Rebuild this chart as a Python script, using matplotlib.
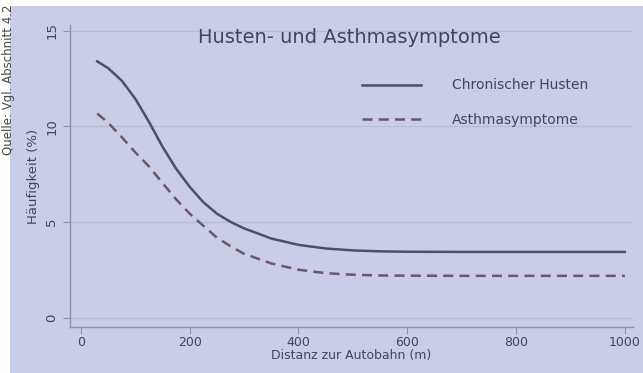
import matplotlib.pyplot as plt
from matplotlib.patches import Rectangle

# Werte
distanz = [30, 50, 75, 100, 125, 150, 175, 200, 225, 250, 275, 300, 350,
           400, 450, 500, 550, 600, 700, 800, 900, 1000]
husten = [13.4, 13.05, 12.4, 11.45, 10.25, 8.95, 7.8, 6.85, 6.05, 5.45, 5.02,
          4.68, 4.15, 3.82, 3.63, 3.53, 3.48, 3.46, 3.45, 3.45, 3.45, 3.45]
asthma = [10.68, 10.2, 9.45, 8.65, 7.92, 7.05, 6.2, 5.45, 4.82, 4.2, 3.75,
          3.35, 2.85, 2.52, 2.34, 2.26, 2.22, 2.21, 2.2, 2.2, 2.2, 2.2]
x_ticks = [0, 200, 400, 600, 800, 1000]
y_ticks = [0, 5, 10, 15]

bg = '#c9cde8'
txt = '#3f4560'

fig = plt.figure(figsize=(6.43, 3.73), dpi=100, facecolor='white')
fig.patches.append(Rectangle((10 / 643, 0), 1, (373 - 6) / 373,
                             transform=fig.transFigure, facecolor=bg,
                             edgecolor='none', zorder=-5))

ax = fig.add_axes([70 / 643, 46 / 373, 563 / 643, 302 / 373])
ax.set_facecolor(bg)

ax.plot(distanz, husten, color='#4a4f6e', lw=1.8, label='Chronischer Husten')
ax.plot(distanz, asthma, color='#6e5668', lw=1.8, dashes=(4, 2.5),
        label='Asthmasymptome')

ax.set_xlim(-20, 1015)
ax.set_ylim(-0.47, 15.3)
ax.set_xticks(x_ticks)
ax.set_yticks(y_ticks)
ax.grid(axis='y', color='#b7bbd8', lw=0.9)
ax.set_axisbelow(True)

for s in ['top', 'right']:
    ax.spines[s].set_visible(False)
for s in ['left', 'bottom']:
    ax.spines[s].set_color('#8a8fab')
    ax.spines[s].set_linewidth(1.0)

ax.tick_params(colors='#8a8fab', labelcolor=txt, labelsize=9.5, length=5)
ax.tick_params(axis='x', pad=1.5, labelsize=9)
for lab in ax.get_yticklabels():
    lab.set_rotation(90)
    lab.set_va('center')

ax.set_xlabel('Distanz zur Autobahn (m)', fontsize=9, color=txt, labelpad=0)
ax.set_ylabel('Häufigkeit (%)', fontsize=9.5, color=txt, labelpad=4)

ax.text(0.497, 0.96, 'Husten- und Asthmasymptome', transform=ax.transAxes,
        ha='center', va='center', fontsize=14, color=txt)

leg = ax.legend(loc='upper left', bbox_to_anchor=(0.518, 0.823), frameon=False,
                fontsize=10, handlelength=4.3, handletextpad=2.2,
                labelspacing=1.5, borderpad=0, borderaxespad=0)
for t in leg.get_texts():
    t.set_color(txt)

fig.text(2 / 643, (373 - 155) / 373, 'Quelle: Vgl. Abschnitt 4.2',
         rotation=90, ha='left', va='bottom', fontsize=8.5, color='#444444')

fig.savefig('out.png', dpi=100, facecolor='white')
